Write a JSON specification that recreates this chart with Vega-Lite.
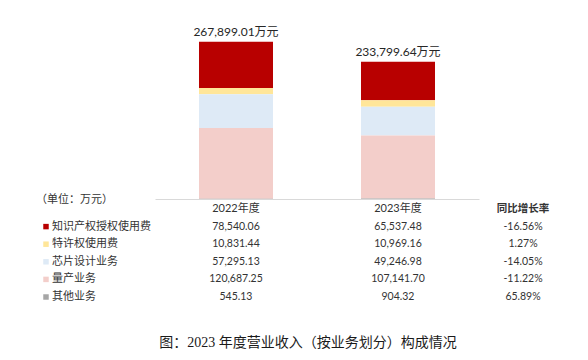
{
  "$schema": "https://vega.github.io/schema/vega-lite/v6.json",
  "width": 588,
  "height": 330,
  "autosize": {"type": "none"},
  "padding": {"left": 0, "top": 0, "right": 0, "bottom": 30},
  "background": "white",
  "config": {"view": {"stroke": null}, "font": "Lato, Noto Sans CJK SC"},
  "title": {
    "text": "图：2023 年度营业收入（按业务划分）构成情况",
    "orient": "bottom",
    "anchor": "middle",
    "frame": "group",
    "offset": 6,
    "dx": 14,
    "baseline": "top",
    "font": "Liberation Serif, Noto Sans CJK SC",
    "fontSize": 14,
    "fontWeight": "normal",
    "color": "#1a1a1a"
  },
  "datasets": {
    "revenue": [
      {"year": "2022年度", "category": "知识产权授权使用费", "value": 78540.06},
      {"year": "2022年度", "category": "特许权使用费", "value": 10831.44},
      {"year": "2022年度", "category": "芯片设计业务", "value": 57295.13},
      {"year": "2022年度", "category": "量产业务", "value": 120687.25},
      {"year": "2022年度", "category": "其他业务", "value": 545.13},
      {"year": "2023年度", "category": "知识产权授权使用费", "value": 65537.48},
      {"year": "2023年度", "category": "特许权使用费", "value": 10969.16},
      {"year": "2023年度", "category": "芯片设计业务", "value": 49246.98},
      {"year": "2023年度", "category": "量产业务", "value": 107141.70},
      {"year": "2023年度", "category": "其他业务", "value": 904.32}
    ],
    "growth": [
      {"category": "知识产权授权使用费", "growth": "-16.56%"},
      {"category": "特许权使用费", "growth": "1.27%"},
      {"category": "芯片设计业务", "growth": "-14.05%"},
      {"category": "量产业务", "growth": "-11.22%"},
      {"category": "其他业务", "growth": "65.89%"}
    ]
  },
  "layer": [
    {
      "data": {"name": "revenue"},
      "transform": [
        {"calculate": "indexof(['其他业务','量产业务','芯片设计业务','特许权使用费','知识产权授权使用费'], datum.category)", "as": "stackOrder"}
      ],
      "mark": {"type": "bar"},
      "encoding": {
        "x": {
          "field": "year", "type": "nominal",
          "scale": {"type": "band", "domain": ["2022年度", "2023年度"], "range": [155, 479], "paddingInner": 0.5432, "paddingOuter": 0.2716},
          "axis": {"orient": "bottom", "offset": -131, "labels": false, "ticks": false, "title": null, "grid": false, "domainColor": "#D9D9D9", "domainWidth": 1}
        },
        "y": {
          "field": "value", "type": "quantitative", "stack": "zero",
          "scale": {"domain": [0, 300000], "range": [199, 23], "nice": false, "zero": true},
          "axis": null
        },
        "color": {
          "field": "category", "type": "nominal",
          "scale": {"domain": ["知识产权授权使用费", "特许权使用费", "芯片设计业务", "量产业务", "其他业务"], "range": ["#B80000", "#FFE699", "#DEEAF6", "#F3CECA", "#A6A6A6"]},
          "legend": null
        },
        "order": {"field": "stackOrder", "type": "quantitative"}
      }
    },
    {
      "data": {"name": "revenue"},
      "transform": [
        {"aggregate": [{"op": "sum", "field": "value", "as": "total"}], "groupby": ["year"]},
        {"calculate": "format(datum.total, ',.2f') + '万元'", "as": "label"}
      ],
      "mark": {"type": "text", "baseline": "alphabetic", "dy": -6, "fontSize": 12, "color": "#262626", "font": "Lato, Noto Sans CJK SC"},
      "encoding": {
        "x": {"field": "year", "type": "nominal", "scale": {"type": "band", "domain": ["2022年度", "2023年度"], "range": [155, 479], "paddingInner": 0.5432, "paddingOuter": 0.2716}, "axis": null},
        "y": {"field": "total", "type": "quantitative", "scale": {"domain": [0, 300000], "range": [199, 23], "nice": false, "zero": true}, "axis": null},
        "text": {"field": "label", "type": "nominal"}
      }
    },
    {
      "data": {"name": "revenue"},
      "transform": [{"aggregate": [{"op": "count", "as": "n"}], "groupby": ["year"]}],
      "mark": {"type": "text", "baseline": "middle", "fontSize": 11, "color": "#333333", "font": "Lato, Noto Sans CJK SC"},
      "encoding": {
        "x": {"field": "year", "type": "nominal", "scale": {"type": "band", "domain": ["2022年度", "2023年度"], "range": [155, 479], "paddingInner": 0.5432, "paddingOuter": 0.2716}, "axis": null},
        "y": {"datum": "(header)", "type": "nominal", "scale": {"type": "point", "domain": ["(header)", "知识产权授权使用费", "特许权使用费", "芯片设计业务", "量产业务", "其他业务"], "range": [209, 297], "padding": 0}, "axis": null},
        "text": {"field": "year", "type": "nominal"}
      }
    },
    {
      "data": {"name": "revenue"},
      "mark": {"type": "text", "baseline": "middle", "fontSize": 10.5, "color": "#333333", "font": "Lato, Noto Sans CJK SC"},
      "encoding": {
        "x": {"field": "year", "type": "nominal", "scale": {"type": "band", "domain": ["2022年度", "2023年度"], "range": [155, 479], "paddingInner": 0.5432, "paddingOuter": 0.2716}, "axis": null},
        "y": {"field": "category", "type": "nominal", "scale": {"type": "point", "domain": ["(header)", "知识产权授权使用费", "特许权使用费", "芯片设计业务", "量产业务", "其他业务"], "range": [209, 297], "padding": 0}, "axis": null},
        "text": {"field": "value", "type": "quantitative", "format": ",.2f"}
      }
    },
    {
      "data": {"values": [{"header": "同比增长率"}]},
      "mark": {"type": "text", "baseline": "middle", "fontSize": 10.5, "fontWeight": "bold", "color": "#333333", "font": "Lato, Noto Sans CJK SC"},
      "encoding": {
        "x": {"datum": "同比增长率", "type": "nominal", "scale": {"type": "point", "domain": ["同比增长率"], "range": [523, 523], "padding": 0}, "axis": null},
        "y": {"datum": "(header)", "type": "nominal", "scale": {"type": "point", "domain": ["(header)", "知识产权授权使用费", "特许权使用费", "芯片设计业务", "量产业务", "其他业务"], "range": [209, 297], "padding": 0}, "axis": null},
        "text": {"field": "header", "type": "nominal"}
      }
    },
    {
      "data": {"name": "growth"},
      "mark": {"type": "text", "baseline": "middle", "fontSize": 10.5, "color": "#333333", "font": "Lato, Noto Sans CJK SC"},
      "encoding": {
        "x": {"datum": "同比增长率", "type": "nominal", "scale": {"type": "point", "domain": ["同比增长率"], "range": [523, 523], "padding": 0}, "axis": null},
        "y": {"field": "category", "type": "nominal", "scale": {"type": "point", "domain": ["(header)", "知识产权授权使用费", "特许权使用费", "芯片设计业务", "量产业务", "其他业务"], "range": [209, 297], "padding": 0}, "axis": null},
        "text": {"field": "growth", "type": "nominal"}
      }
    },
    {
      "data": {"name": "growth"},
      "mark": {"type": "square", "size": 30, "xOffset": -6, "opacity": 1, "filled": true},
      "encoding": {
        "x": {"datum": "legend", "type": "nominal", "scale": {"type": "point", "domain": ["unit", "legend"], "range": [36, 52], "padding": 0}, "axis": null},
        "y": {"field": "category", "type": "nominal", "scale": {"type": "point", "domain": ["(header)", "知识产权授权使用费", "特许权使用费", "芯片设计业务", "量产业务", "其他业务"], "range": [209, 297], "padding": 0}, "axis": null},
        "color": {
          "field": "category", "type": "nominal",
          "scale": {"domain": ["知识产权授权使用费", "特许权使用费", "芯片设计业务", "量产业务", "其他业务"], "range": ["#B80000", "#FFE699", "#DEEAF6", "#F3CECA", "#A6A6A6"]},
          "legend": null
        }
      }
    },
    {
      "data": {"name": "growth"},
      "mark": {"type": "text", "align": "left", "baseline": "middle", "fontSize": 11, "color": "#333333", "font": "Lato, Noto Sans CJK SC"},
      "encoding": {
        "x": {"datum": "legend", "type": "nominal", "scale": {"type": "point", "domain": ["unit", "legend"], "range": [36, 52], "padding": 0}, "axis": null},
        "y": {"field": "category", "type": "nominal", "scale": {"type": "point", "domain": ["(header)", "知识产权授权使用费", "特许权使用费", "芯片设计业务", "量产业务", "其他业务"], "range": [209, 297], "padding": 0}, "axis": null},
        "text": {"field": "category", "type": "nominal"}
      }
    },
    {
      "data": {"values": [{"unit": "（单位：万元）"}]},
      "mark": {"type": "text", "align": "left", "baseline": "middle", "dy": -9, "fontSize": 11, "color": "#333333", "font": "Lato, Noto Sans CJK SC"},
      "encoding": {
        "x": {"datum": "unit", "type": "nominal", "scale": {"type": "point", "domain": ["unit", "legend"], "range": [36, 52], "padding": 0}, "axis": null},
        "y": {"datum": "(header)", "type": "nominal", "scale": {"type": "point", "domain": ["(header)", "知识产权授权使用费", "特许权使用费", "芯片设计业务", "量产业务", "其他业务"], "range": [209, 297], "padding": 0}, "axis": null},
        "text": {"field": "unit", "type": "nominal"}
      }
    }
  ],
  "resolve": {"scale": {"x": "independent", "y": "independent"}}
}
